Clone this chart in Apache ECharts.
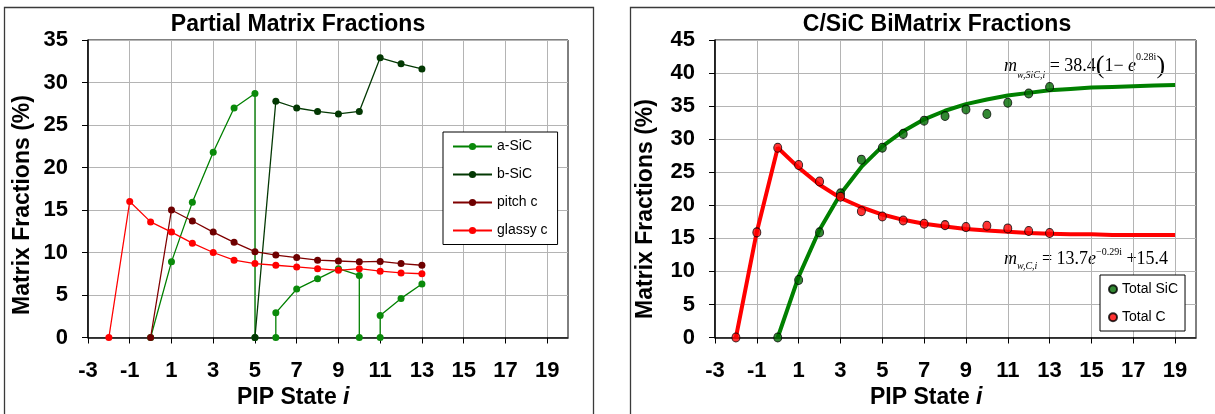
<!DOCTYPE html>
<html><head><meta charset="utf-8">
<script src="https://cdn.jsdelivr.net/npm/echarts@6/dist/echarts.min.js"></script>
<style>html,body{margin:0;padding:0;background:#fff}#c{width:1215px;height:414px}</style>
</head><body><div id="c"></div>
<script>
// ---- tick labels ----
const xTickValues = [-3, -1, 1, 3, 5, 7, 9, 11, 13, 15, 17, 19];

// ---- left chart: Partial Matrix Fractions ----
const aSiC_x = [0, 1, 2, 3, 4, 5, 5, 5.5, 6, 6, 7, 8, 9, 10, 10, 10.5, 11, 11, 12, 13];
const aSiC_y = [0, 8.9, 15.9, 21.8, 27.0, 28.7, 0, null, 0, 2.9, 5.7, 6.9, 8.1, 7.3, 0, null, 0, 2.6, 4.6, 6.3];
const bSiC_x = [5, 6, 7, 8, 9, 10, 11, 12, 13];
const bSiC_y = [0, 27.8, 27.0, 26.6, 26.3, 26.6, 32.9, 32.2, 31.6];
const pitch_x = [0, 1, 2, 3, 4, 5, 6, 7, 8, 9, 10, 11, 12, 13];
const pitch_y = [0, 15.0, 13.7, 12.4, 11.2, 10.1, 9.7, 9.4, 9.1, 9.0, 8.9, 8.95, 8.7, 8.5];
const glassy_x = [-2, -1, 0, 1, 2, 3, 4, 5, 6, 7, 8, 9, 10, 11, 12, 13];
const glassy_y = [0, 16.0, 13.6, 12.4, 11.1, 10.0, 9.1, 8.7, 8.5, 8.3, 8.1, 7.9, 8.1, 7.8, 7.6, 7.5];

// ---- right chart: C/SiC BiMatrix Fractions ----
const totalSiC_x = [0, 1, 2, 3, 4, 5, 6, 7, 8, 9, 10, 11, 12, 13];
const totalSiC_y = [0, 8.7, 15.9, 21.8, 26.9, 28.7, 30.8, 32.8, 33.5, 34.5, 33.8, 35.5, 36.9, 37.9];
const totalC_x = [-2, -1, 0, 1, 2, 3, 4, 5, 6, 7, 8, 9, 10, 11, 12, 13];
const totalC_y = [0, 15.9, 28.7, 26.1, 23.6, 21.3, 19.1, 18.3, 17.7, 17.2, 17.0, 16.7, 16.9, 16.5, 16.1, 15.8];
const fitSiC_x = [0, 1, 2, 3, 4, 5, 6, 7, 8, 9, 10, 11, 12, 13, 14, 15, 16, 17, 18, 19];
const fitSiC_y = [0, 9.2, 16.3, 21.7, 25.8, 28.9, 31.2, 33.0, 34.3, 35.3, 36.0, 36.6, 37.0, 37.4, 37.6, 37.8, 37.9, 38.0, 38.1, 38.2];
const fitC_x = [-2, -1, 0, 1, 2, 3, 4, 5, 6, 7, 8, 9, 10, 11, 12, 13, 14, 15, 16, 17, 18, 19];
const fitC_y = [0, 16.0, 28.7, 25.7, 23.1, 21.1, 19.7, 18.6, 17.8, 17.2, 16.8, 16.4, 16.2, 16.0, 15.8, 15.7, 15.6, 15.6, 15.5, 15.5, 15.5, 15.5];

const zip = (xs, ys) => xs.map((x, i) => [x, ys[i]]);
const FONT = '"Liberation Sans", Arial, sans-serif';
const SERIF = '"Liberation Serif", "Times New Roman", serif';

function xAxisCfg(gi) {
  return {
    type: 'value', gridIndex: gi, min: -3, max: 20, interval: 2,
    axisLine: { show: true, onZero: false, lineStyle: { color: '#000', width: 1.5 } },
    axisTick: { show: true, customValues: xTickValues, length: 6, lineStyle: { color: '#000', width: 1 } },
    axisLabel: { customValues: xTickValues, margin: 22, fontSize: 22, fontWeight: 'bold', color: '#000', fontFamily: FONT },
    splitLine: { show: true, lineStyle: { color: '#b4b4b4', width: 1 } }
  };
}
function yAxisCfg(gi, max) {
  return {
    type: 'value', gridIndex: gi, min: 0, max: max, interval: 5,
    axisLine: { show: true, onZero: false, lineStyle: { color: '#000', width: 1.5 } },
    axisTick: { show: true, length: 6, lineStyle: { color: '#000', width: 1 } },
    axisLabel: { margin: 20, fontSize: 22, fontWeight: 'bold', color: '#000', fontFamily: FONT },
    splitLine: { show: true, lineStyle: { color: '#b4b4b4', width: 1 } }
  };
}
function gtext(x, y, text, extra) {
  return Object.assign({
    type: 'text', x: x, y: y, silent: true,
    style: Object.assign({
      text: text, fill: '#000', fontFamily: FONT, fontWeight: 'bold', fontSize: 23,
      align: 'center', verticalAlign: 'middle', textAlign: 'center', textVerticalAlign: 'middle'
    }, extra && extra.style || {})
  }, extra && extra.el || {});
}
const eqRich = {
  m: { fontFamily: SERIF, fontStyle: 'italic', fontSize: 18, lineHeight: 24 },
  s: { fontFamily: SERIF, fontStyle: 'italic', fontSize: 10, verticalAlign: 'bottom' },
  n: { fontFamily: SERIF, fontSize: 18, lineHeight: 24 },
  p: { fontFamily: SERIF, fontSize: 26, lineHeight: 28 },
  e: { fontFamily: SERIF, fontStyle: 'italic', fontSize: 18, lineHeight: 24 },
  u: { fontFamily: SERIF, fontSize: 10, verticalAlign: 'top' }
};
const xNameRich = {
  b: { fontFamily: FONT, fontWeight: 'bold', fontSize: 23 },
  i: { fontFamily: FONT, fontWeight: 'bold', fontStyle: 'italic', fontSize: 23 }
};

const chart = echarts.init(document.getElementById('c'), null, { renderer: 'canvas' });
chart.setOption({
  animation: false,
  backgroundColor: '#fff',
  grid: [
    { left: 88, top: 40, width: 480, height: 297.5, show: true, borderColor: '#000', borderWidth: 1 },
    { left: 715, top: 40, width: 481, height: 297.5, show: true, borderColor: '#000', borderWidth: 1 }
  ],
  xAxis: [xAxisCfg(0), xAxisCfg(1)],
  yAxis: [yAxisCfg(0, 35), yAxisCfg(1, 45)],
  legend: [
    {
      data: ['a-SiC', 'b-SiC', 'pitch c', 'glassy c'],
      orient: 'vertical', left: 443, top: 132,
      padding: [7.5, 10, 7, 9], itemGap: 14, itemWidth: 39, itemHeight: 9,
      borderColor: '#000', borderWidth: 1, backgroundColor: '#fff',
      textStyle: { fontSize: 14, fontFamily: FONT, color: '#000' }
    },
    {
      data: ['Total SiC', 'Total C'],
      orient: 'vertical', left: 1100, top: 275,
      padding: [7.3, 7, 6.7, 8], itemGap: 14, itemWidth: 8, itemHeight: 9,
      borderColor: '#000', borderWidth: 1, backgroundColor: '#fff',
      textStyle: { fontSize: 14, fontFamily: FONT, color: '#000' }
    }
  ],
  series: [
    { name: 'a-SiC', type: 'line', xAxisIndex: 0, yAxisIndex: 0, data: zip(aSiC_x, aSiC_y),
      symbol: 'circle', symbolSize: 7, color: '#0a8a0a',
      lineStyle: { width: 1.3, color: '#008000' }, itemStyle: { color: '#0a8a0a' } },
    { name: 'b-SiC', type: 'line', xAxisIndex: 0, yAxisIndex: 0, data: zip(bSiC_x, bSiC_y),
      symbol: 'circle', symbolSize: 7, color: '#033803',
      lineStyle: { width: 1.3, color: '#033803' }, itemStyle: { color: '#033803' } },
    { name: 'pitch c', type: 'line', xAxisIndex: 0, yAxisIndex: 0, data: zip(pitch_x, pitch_y),
      symbol: 'circle', symbolSize: 7, color: '#6e0000',
      lineStyle: { width: 1.3, color: '#800000' }, itemStyle: { color: '#6e0000' } },
    { name: 'glassy c', type: 'line', xAxisIndex: 0, yAxisIndex: 0, data: zip(glassy_x, glassy_y),
      symbol: 'circle', symbolSize: 7, color: '#ff0000',
      lineStyle: { width: 1.3, color: '#ff0000' }, itemStyle: { color: '#ff0000' } },

    { name: 'SiC fit', type: 'line', xAxisIndex: 1, yAxisIndex: 1, data: zip(fitSiC_x, fitSiC_y),
      symbol: 'none', lineStyle: { width: 4, color: '#008000' }, z: 2 },
    { name: 'C fit', type: 'line', xAxisIndex: 1, yAxisIndex: 1, data: zip(fitC_x, fitC_y),
      symbol: 'none', lineStyle: { width: 4, color: '#ff0000' }, z: 2 },
    { name: 'Total SiC', type: 'scatter', xAxisIndex: 1, yAxisIndex: 1, data: zip(totalSiC_x, totalSiC_y),
      symbol: 'circle', symbolSize: [8, 9], color: '#006a00',
      itemStyle: { color: '#006a00', borderColor: '#000', borderWidth: 1 }, z: 3 },
    { name: 'Total C', type: 'scatter', xAxisIndex: 1, yAxisIndex: 1, data: zip(totalC_x, totalC_y),
      symbol: 'circle', symbolSize: [8, 9], color: '#ff0000',
      itemStyle: { color: '#ff0000', borderColor: '#000', borderWidth: 1 }, z: 3 }
  ],
  graphic: [
    { type: 'rect', silent: true, z: -10, shape: { x: 4.5, y: 7.5, width: 589, height: 440 },
      style: { fill: 'none', stroke: '#3a3a3a', lineWidth: 1.3 } },
    { type: 'rect', silent: true, z: -10, shape: { x: 630.5, y: 7.5, width: 600, height: 440 },
      style: { fill: 'none', stroke: '#3a3a3a', lineWidth: 1.3 } },
    gtext(298, 25, 'Partial Matrix Fractions'),
    gtext(937, 25, 'C/SiC BiMatrix Fractions'),
    gtext(23, 205, 'Matrix Fractions (%)', { el: { rotation: Math.PI / 2 } }),
    gtext(646, 209, 'Matrix Fractions (%)', { el: { rotation: Math.PI / 2 } }),
    gtext(237, 398, '{b|PIP State }{i|i}', { style: { rich: xNameRich, align: 'left', textAlign: 'left' } }),
    gtext(870, 398, '{b|PIP State }{i|i}', { style: { rich: xNameRich, align: 'left', textAlign: 'left' } }),
    gtext(1004, 66, '{m|m}{s|w,SiC,i}{n| = 38.4}{p|(}{n|1− }{e|e}{u|0.28i}{p|)}',
      { style: { rich: eqRich, align: 'left', textAlign: 'left', fontWeight: 'normal' } }),
    gtext(1004, 259, '{m|m}{s|w,C,i}{n| = 13.7}{e|e}{u|−0.29i}{n| +15.4}',
      { style: { rich: eqRich, align: 'left', textAlign: 'left', fontWeight: 'normal' } })
  ]
});
</script>
</body></html>
